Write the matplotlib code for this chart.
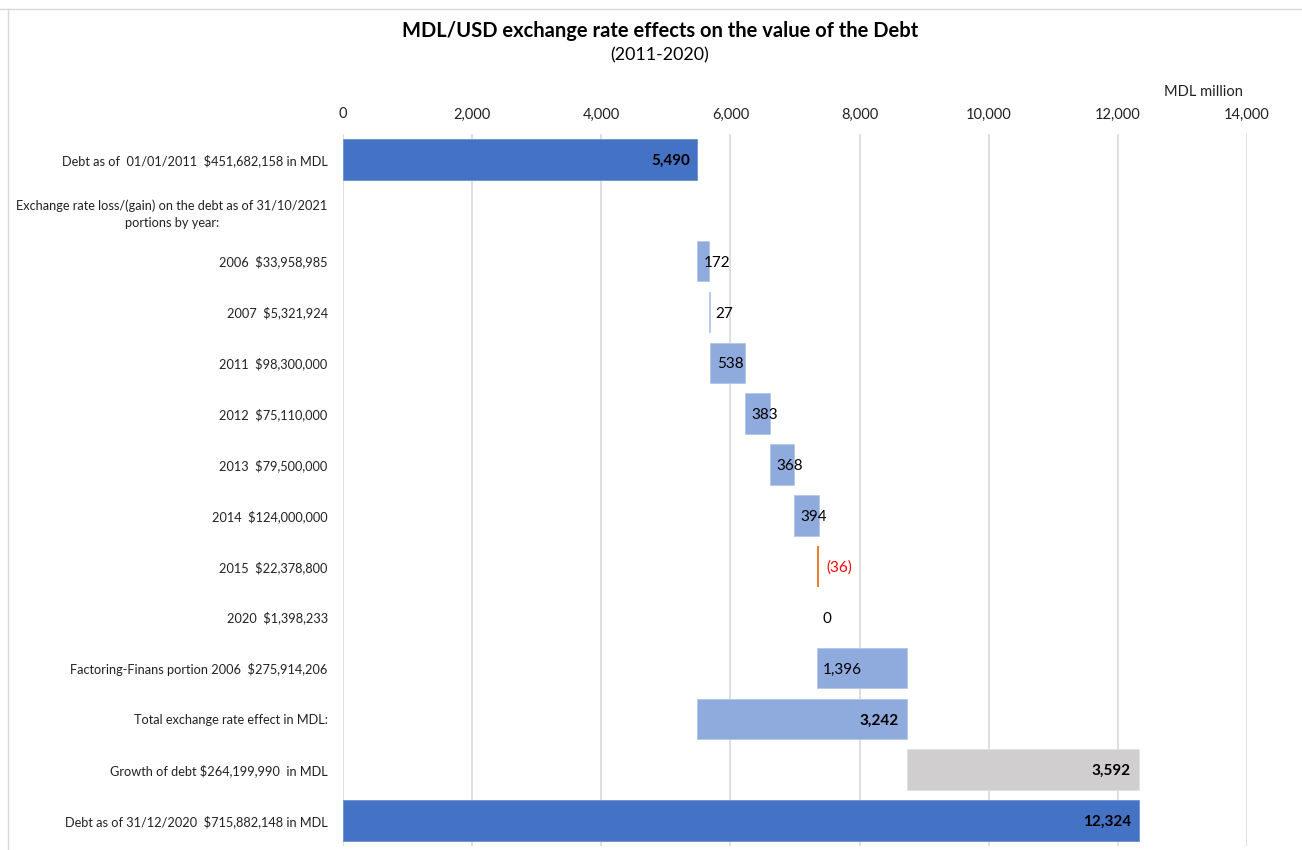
import matplotlib
matplotlib.use("Agg")
import matplotlib.pyplot as plt
from matplotlib.lines import Line2D

plt.rcParams['font.family'] = ['Lato', 'DejaVu Sans']

# Waterfall rows, top to bottom
categories = [
    "Debt as of  01/01/2011  $451,682,158 in MDL",
    "Exchange rate loss/(gain) on the debt as of 31/10/2021\nportions by year:",
    "2006  $33,958,985",
    "2007  $5,321,924",
    "2011  $98,300,000",
    "2012  $75,110,000",
    "2013  $79,500,000",
    "2014  $124,000,000",
    "2015  $22,378,800",
    "2020  $1,398,233",
    "Factoring-Finans portion 2006  $275,914,206",
    "Total exchange rate effect in MDL:",
    "Growth of debt $264,199,990  in MDL",
    "Debt as of 31/12/2020  $715,882,148 in MDL",
]

opening_debt = 5490
yearly_effects = [172, 27, 538, 383, 368, 394, -36, 0, 1396]
total_effect = 3242
debt_growth = 3592
closing_debt = 12324

x_ticks = [0, 2000, 4000, 6000, 8000, 10000, 12000, 14000]

DARK_BLUE = "#4472C4"
LIGHT_BLUE = "#8FAADC"
GREY = "#D0CECE"
ORANGE = "#ED7D31"

fig = plt.figure(figsize=(13.02, 8.5), dpi=100)
ax = fig.add_axes([343 / 1302, 1 - 846 / 850, (1247 - 343) / 1302, (846 - 134) / 850])

n = len(categories)
ypos = list(range(n))
h = 0.8
LABEL_VA = "center_baseline"

# Opening balance
ax.barh(0, opening_debt, left=0, height=h, color=DARK_BLUE, edgecolor="#6D8FD0", linewidth=0.6, zorder=3)
ax.text(opening_debt - 120, 0, f"{opening_debt:,}", ha="right", va=LABEL_VA,
        fontsize=11, fontweight="bold", color="black", zorder=4)

# Yearly increments
running = opening_debt
for i, v in enumerate(yearly_effects):
    row = i + 2
    start = running
    end = running + v
    lo, hi = min(start, end), max(start, end)
    if v < 0:
        ax.barh(row, hi - lo, left=lo, height=h, color=ORANGE, zorder=3)
        ax.text(hi + 110, row, f"({abs(v)})", ha="left", va=LABEL_VA,
                fontsize=11, color="#FF0000", zorder=4)
    elif v == 0:
        ax.text(lo + 95, row, "0", ha="left", va=LABEL_VA, fontsize=11, color="black", zorder=4)
    else:
        ax.barh(row, hi - lo, left=lo, height=h, color=LIGHT_BLUE,
                edgecolor="#B4C7E7", linewidth=0.6, zorder=3)
        ax.text(lo + 100, row, f"{v:,}", ha="left", va=LABEL_VA,
                fontsize=11, color="black", zorder=4)
    running = end

# Total exchange rate effect
ax.barh(11, total_effect, left=opening_debt, height=h, color=LIGHT_BLUE,
        edgecolor="#B4C7E7", linewidth=0.6, zorder=3)
ax.text(opening_debt + total_effect - 120, 11, f"{total_effect:,}", ha="right", va=LABEL_VA,
        fontsize=11, fontweight="bold", color="black", zorder=4)

# Growth of debt
growth_start = opening_debt + total_effect
ax.barh(12, debt_growth, left=growth_start, height=h, color=GREY,
        edgecolor="#E2E0E0", linewidth=0.6, zorder=3)
ax.text(growth_start + debt_growth - 120, 12, f"{debt_growth:,}", ha="right", va=LABEL_VA,
        fontsize=11, fontweight="bold", color="black", zorder=4)

# Closing balance
ax.barh(13, closing_debt, left=0, height=h, color=DARK_BLUE, edgecolor="#6D8FD0", linewidth=0.6, zorder=3)
ax.text(closing_debt - 120, 13, f"{closing_debt:,}", ha="right", va=LABEL_VA,
        fontsize=11, fontweight="bold", color="black", zorder=4)

ax.set_xlim(0, 14000)
ax.set_ylim(n - 0.5, -0.5)
ax.set_yticks(ypos)
ax.set_yticklabels(categories, fontsize=9.2, color="#222222",
                   multialignment="center", linespacing=1.5)
ax.tick_params(axis="y", length=0, pad=11)

ax.xaxis.tick_top()
ax.set_xticks(x_ticks)
ax.set_xticklabels([f"{t:,}" for t in x_ticks], fontsize=10.5, color="#222222")
ax.tick_params(axis="x", length=0, pad=9)

ax.grid(axis="x", color="#D9D9D9", linewidth=1.2, zorder=0)
ax.set_axisbelow(True)
for s in ax.spines.values():
    s.set_visible(False)

fig.text(660 / 1302, 1 - 31 / 850, "MDL/USD exchange rate effects on the value of the Debt",
         ha="center", va="center", fontsize=14.5, fontweight="bold", color="black")
fig.text(660 / 1302, 1 - 55 / 850, "(2011-2020)",
         ha="center", va="center", fontsize=12.8, color="black")
fig.text(1243 / 1302, 1 - 92 / 850, "MDL million", ha="right", va="center",
         fontsize=10.5, color="#222222")

# Thin outer frame
fig.add_artist(Line2D([0, 1], [1 - 9 / 850, 1 - 9 / 850], transform=fig.transFigure,
                      color="#D9D9D9", linewidth=1.0))
fig.add_artist(Line2D([8 / 1302, 8 / 1302], [0, 1 - 9 / 850], transform=fig.transFigure,
                      color="#D9D9D9", linewidth=1.0))

fig.savefig("out.png", dpi=100, facecolor="white")
